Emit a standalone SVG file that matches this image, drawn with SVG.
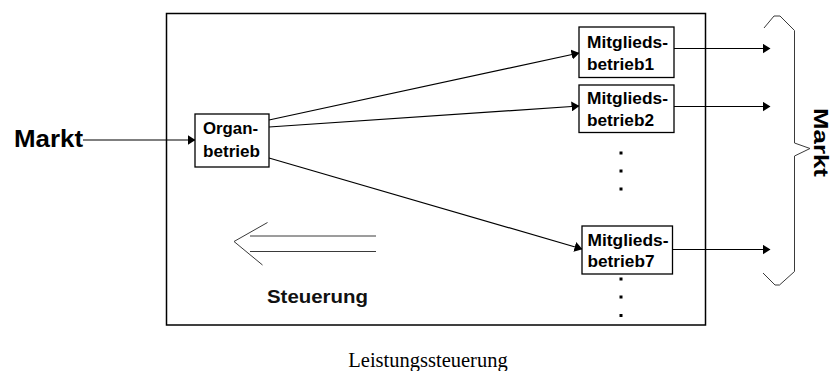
<svg xmlns="http://www.w3.org/2000/svg" width="832" height="371" viewBox="0 0 832 371">
  <style>
    .box { fill: #ffffff; stroke: #000000; stroke-width: 1.3; }
    .frame { fill: none; stroke: #000000; stroke-width: 1.5; }
    .link { fill: none; stroke: #000000; stroke-width: 1.2; }
    .thin { fill: none; stroke: #3a3a3a; stroke-width: 1; }
    .node { font-family: "Liberation Sans", Arial, sans-serif; font-weight: bold; font-size: 17px; fill: #000000; }
    .big { font-family: "Liberation Sans", Arial, sans-serif; font-weight: bold; font-size: 23px; fill: #000000; }
    .label { font-family: "Liberation Sans", Arial, sans-serif; font-weight: bold; font-size: 19px; fill: #111111; }
    .caption { font-family: "Liberation Serif", "Times New Roman", serif; font-size: 20.5px; fill: #000000; }
    .dot { fill: #000000; }
  </style>
  <defs>
    <marker id="head" markerWidth="8" markerHeight="10" refX="7.5" refY="5" orient="auto" markerUnits="userSpaceOnUse">
      <path d="M0,0 L8,5 L0,10 Z" fill="#000000"/>
    </marker>
  </defs>

  <rect width="832" height="371" fill="#ffffff"/>

  <!-- enclosing frame -->
  <rect class="frame" x="166.5" y="13.5" width="539" height="311.5"/>

  <!-- connectors -->
  <g id="connectors">
    <line class="link" x1="83" y1="140" x2="195" y2="140" marker-end="url(#head)"/>
    <line class="link" x1="269" y1="120" x2="579" y2="53" marker-end="url(#head)"/>
    <line class="link" x1="269" y1="127" x2="579" y2="106" marker-end="url(#head)"/>
    <line class="link" x1="269" y1="158" x2="582" y2="249" marker-end="url(#head)"/>
    <line class="link" x1="674" y1="48.5" x2="770" y2="48.5" marker-end="url(#head)"/>
    <line class="link" x1="674" y1="106.5" x2="770" y2="106.5" marker-end="url(#head)"/>
    <line class="link" x1="672" y1="249.5" x2="770" y2="249.5" marker-end="url(#head)"/>
  </g>

  <!-- left market -->
  <g id="markt-links">
    <text class="big" x="14" y="147" textLength="69" lengthAdjust="spacingAndGlyphs">Markt</text>
  </g>

  <!-- central company -->
  <g id="organbetrieb">
    <rect class="box" x="195" y="114" width="74" height="53"/>
    <text class="node" style="font-size:16px" x="203" y="133.5" textLength="55" lengthAdjust="spacingAndGlyphs">Organ-</text>
    <text class="node" style="font-size:16px" x="203" y="157" textLength="57" lengthAdjust="spacingAndGlyphs">betrieb</text>
  </g>

  <!-- member companies -->
  <g id="mitglied1">
    <rect class="box" x="579" y="27" width="95" height="50.5"/>
    <text class="node" x="587" y="48" textLength="81" lengthAdjust="spacingAndGlyphs">Mitglieds-</text>
    <text class="node" x="587" y="69.5" textLength="67" lengthAdjust="spacingAndGlyphs">betrieb1</text>
  </g>
  <g id="mitglied2">
    <rect class="box" x="579" y="85" width="95" height="47.5"/>
    <text class="node" x="587" y="103.5" textLength="81" lengthAdjust="spacingAndGlyphs">Mitglieds-</text>
    <text class="node" x="587" y="125.5" textLength="67" lengthAdjust="spacingAndGlyphs">betrieb2</text>
  </g>
  <g id="mitglied7">
    <rect class="box" x="582" y="226" width="90.5" height="48"/>
    <text class="node" x="587.5" y="246" textLength="81" lengthAdjust="spacingAndGlyphs">Mitglieds-</text>
    <text class="node" x="587.5" y="267" textLength="67" lengthAdjust="spacingAndGlyphs">betrieb7</text>
  </g>

  <!-- ellipsis dots -->
  <g id="punkte">
    <rect class="dot" x="619.5" y="151.5" width="3" height="3"/>
    <rect class="dot" x="619.5" y="169.5" width="3" height="3"/>
    <rect class="dot" x="619.5" y="187.5" width="3" height="3"/>
    <rect class="dot" x="619.5" y="277.5" width="3" height="3"/>
    <rect class="dot" x="619.5" y="295.5" width="3" height="3"/>
    <rect class="dot" x="619.5" y="314" width="3" height="3"/>
  </g>

  <!-- right market with brace -->
  <g id="markt-rechts">
    <path class="thin" d="M764,28 L774,16 L780,16 L794.5,30.5 L794.5,143 L810,148.5 L794.5,156 L794.5,271.5 L779.5,285 L775,285 L763,273"/>
    <text class="big" style="font-size:21px" transform="translate(813.5,108) rotate(90)" x="0" y="0" textLength="69" lengthAdjust="spacingAndGlyphs">Markt</text>
  </g>

  <!-- control flow arrow -->
  <g id="steuerung">
    <line class="thin" x1="250" y1="236" x2="376" y2="236"/>
    <line class="thin" x1="250" y1="251.5" x2="376" y2="251.5"/>
    <path class="thin" d="M267.5,222.5 L234,241.5 L262.5,265"/>
    <text class="label" x="267" y="302.5" textLength="101" lengthAdjust="spacingAndGlyphs">Steuerung</text>
  </g>

  <!-- caption -->
  <text class="caption" x="428" y="366.5" text-anchor="middle">Leistungssteuerung</text>
</svg>
